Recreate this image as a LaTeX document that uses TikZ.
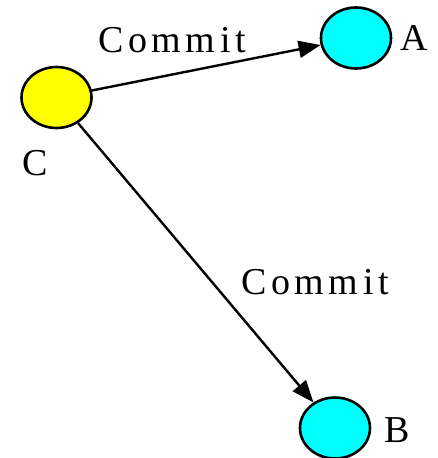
\documentclass[tikz,border=0pt]{standalone}
\usepackage{fontspec}
\setmainfont{Liberation Serif}
\newfontfamily\commitfont[LetterSpace=12]{Liberation Serif}
\usetikzlibrary{arrows.meta,shapes.geometric}
\definecolor{siteyellow}{RGB}{255,255,0}
\definecolor{sitecyan}{RGB}{0,255,255}
\tikzset{
    sitenode/.style={ellipse, draw=black, line width=2.6pt, inner sep=0pt, minimum width=70pt, minimum height=61pt},
    sitename/.style={font=\fontsize{38}{40}\selectfont, inner sep=0pt},
    msgname/.style={font=\fontsize{38}{40}\commitfont, inner sep=0pt},
    msgarrow/.style={-{Triangle[length=22pt, width=17pt]}, line width=2.4pt}
}
\begin{document}
\begin{tikzpicture}[x=1pt, y=-1pt]
    \useasboundingbox[fill=white] (0,0) rectangle (438,458);

    \node[sitenode, fill=siteyellow] (c) at (56.5,97.5) {};
    \node[sitenode, fill=sitecyan] (a) at (356,38) {};
    \node[sitenode, fill=sitecyan] (b) at (335,428) {};

    \node[sitename] (clabel) at (35,163) {C};
    \node[sitename] (alabel) at (414,38) {A};
    \node[sitename] (blabel) at (397,430) {B};

    \draw[msgarrow] (c) -- (a);
    \draw[msgarrow] (c) -- (b);

    \node[msgname] (commitca) at (172,40) {Commit};
    \node[msgname] (commitcb) at (315,282) {Commit};
\end{tikzpicture}
\end{document}
